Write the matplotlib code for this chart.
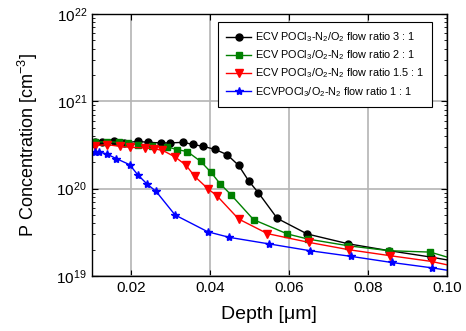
import matplotlib
matplotlib.use("Agg")
import matplotlib.pyplot as plt
from matplotlib.ticker import LogLocator, FixedLocator

plt.rcParams["font.family"] = ["Liberation Sans", "DejaVu Sans"]
plt.rcParams["mathtext.default"] = "regular"

# ECV profiles, depth in um, concentration in cm^-3
depth_31 = [0.0109, 0.0126, 0.0155, 0.0181, 0.0217, 0.0242, 0.0275, 0.0299, 0.0332, 0.0356,
            0.0382, 0.0412, 0.0443, 0.0472, 0.0498, 0.0522, 0.0570, 0.0646, 0.0750, 0.0854,
            0.0959, 0.1065]
conc_31 = [3.39e20, 3.43e20, 3.48e20, 3.34e20, 3.48e20, 3.39e20, 3.34e20, 3.34e20, 3.39e20, 3.21e20,
           3.05e20, 2.82e20, 2.45e20, 1.85e20, 1.22e20, 9.0e19, 4.57e19, 3.03e19, 2.34e19, 1.95e19,
           1.65e19, 1.36e19]

depth_21 = [0.0109, 0.0139, 0.0168, 0.0192, 0.0216, 0.0253, 0.0291, 0.0316, 0.0342, 0.0376,
            0.0402, 0.0425, 0.0453, 0.0510, 0.0596, 0.0648, 0.0750, 0.0854, 0.0958, 0.1065]
conc_21 = [3.41e20, 3.45e20, 3.39e20, 3.34e20, 3.19e20, 3.11e20, 3.01e20, 2.80e20, 2.66e20, 2.05e20,
           1.54e20, 1.14e20, 8.5e19, 4.42e19, 3.03e19, 2.65e19, 2.22e19, 1.95e19, 1.88e19, 1.35e19]

depth_151 = [0.0109, 0.0138, 0.0172, 0.0197, 0.0235, 0.0258, 0.0279, 0.0311, 0.0339, 0.0361,
             0.0395, 0.0417, 0.0472, 0.0545, 0.0650, 0.0752, 0.0856, 0.0961, 0.1065]
conc_151 = [3.11e20, 3.19e20, 3.05e20, 2.97e20, 2.93e20, 2.85e20, 2.75e20, 2.31e20, 1.85e20, 1.38e20,
            9.9e19, 8.3e19, 4.5e19, 3.06e19, 2.43e19, 2.0e19, 1.71e19, 1.47e19, 1.16e19]

depth_11 = [0.0109, 0.0119, 0.0138, 0.0162, 0.0196, 0.0216, 0.0240, 0.0263, 0.0311, 0.0394,
            0.0449, 0.0550, 0.0653, 0.0757, 0.0860, 0.0963, 0.1065]
conc_11 = [2.63e20, 2.63e20, 2.49e20, 2.21e20, 1.88e20, 1.45e20, 1.13e20, 9.3e19, 5.0e19, 3.21e19,
           2.77e19, 2.33e19, 1.95e19, 1.68e19, 1.43e19, 1.24e19, 1.05e19]

labels = [
    r"ECV POCl$_3$-N$_2$/O$_2$ flow ratio 3 : 1",
    r"ECV POCl$_3$/O$_2$-N$_2$ flow ratio 2 : 1",
    r"ECV POCl$_3$/O$_2$-N$_2$ flow ratio 1.5 : 1",
    r"ECVPOCl$_3$/O$_2$-N$_2$ flow ratio 1 : 1",
]

fig = plt.figure(figsize=(4.66, 3.31), dpi=100)
ax = fig.add_axes([0.197, 0.166, 0.762, 0.792])

ax.plot(depth_31, conc_31, color="black", marker="o", ms=5, lw=1, label=labels[0])
ax.plot(depth_21, conc_21, color="#008000", marker="s", ms=4.2, lw=1, label=labels[1])
ax.plot(depth_151, conc_151, color="red", marker="v", ms=5.5, lw=1, label=labels[2])
ax.plot(depth_11, conc_11, color="blue", marker="*", ms=6, lw=1, label=labels[3])

ax.set_yscale("log")
ax.set_xlim(0.01, 0.10)
ax.set_ylim(1e19, 1e22)
ax.xaxis.set_major_locator(FixedLocator([0.02, 0.04, 0.06, 0.08, 0.10]))
ax.set_xticklabels(["0.02", "0.04", "0.06", "0.08", "0.10"])
ax.yaxis.set_major_locator(LogLocator(base=10))
ax.yaxis.set_minor_locator(LogLocator(base=10, subs=range(2, 10)))
ax.yaxis.set_minor_formatter(plt.NullFormatter())

ax.grid(True, which="major", color="#b4b4b4", lw=1.2)
ax.tick_params(which="both", direction="in", top=True, right=True, labelsize=11)
ax.tick_params(which="major", length=4)
ax.tick_params(which="minor", length=2)
for sp in ax.spines.values():
    sp.set_linewidth(1)

ax.set_xlabel("Depth [μm]", fontsize=14, labelpad=8)
ax.set_ylabel("P Concentration [cm$^{-3}$]", fontsize=13, labelpad=12)

leg = ax.legend(loc="upper right", bbox_to_anchor=(0.974, 0.989), fontsize=7.8,
                fancybox=False, edgecolor="black", framealpha=1,
                handlelength=2.3, handletextpad=0.3, borderpad=0.75, labelspacing=0.4)
leg.get_frame().set_linewidth(0.8)

fig.savefig("out.png", dpi=100)
